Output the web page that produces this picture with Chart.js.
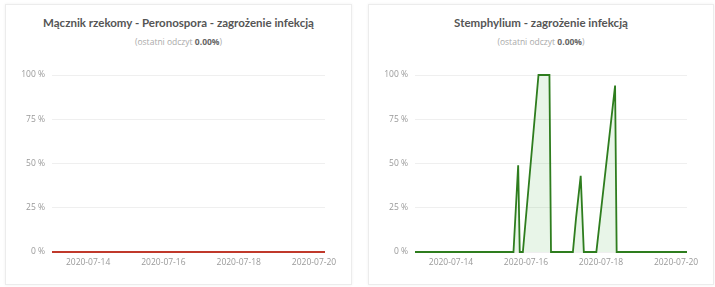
<!DOCTYPE html>
<html lang="pl">

<head>
    <meta charset="UTF-8">
    <title>Zagrożenie infekcją</title>
    <script src="https://cdn.jsdelivr.net/npm/chart.js"></script>
    <style>
        body {
            margin: 0;
            width: 715px;
            height: 287px;
            background: #fff;
            font-family: "Open Sans", sans-serif;
            position: relative;
            overflow: hidden;
        }

        .card {
            position: absolute;
            top: 4px;
            height: 279px;
            border: 1px solid #ececec;
            box-shadow: 0 0 3px rgba(0, 0, 0, 0.06);
            background: #fff;
        }

        .card h2 {
            margin: 0;
            position: absolute;
            top: 11px;
            left: 0;
            right: 0;
            text-align: center;
            font-family: Lato, sans-serif;
            font-size: 11.5px;
            font-weight: 700;
            color: #555;
        }

        .card p {
            margin: 0;
            position: absolute;
            top: 31px;
            left: 0;
            right: 0;
            text-align: center;
            font-size: 8.5px;
            color: #aaa;
        }

        .card p b {
            color: #666;
        }

        .card canvas {
            position: absolute;
            left: 8px;
            top: 60px;
        }
    </style>
</head>

<body>
    <div class="card" style="left:5px; width:345px;">
        <h2>Mącznik rzekomy - Peronospora - zagrożenie infekcją</h2>
        <p>(ostatni odczyt <b>0.00%</b>)</p>
        <canvas id="peronChart" width="330" height="211"></canvas>
    </div>
    <div class="card" style="left:368px; width:344px;">
        <h2>Stemphylium - zagrożenie infekcją</h2>
        <p>(ostatni odczyt <b>0.00%</b>)</p>
        <canvas id="stemChart" width="330" height="211"></canvas>
    </div>

    <script>
        // hours counted from 2020-07-14 00:00
        const startDate = Date.UTC(2020, 6, 14);
        const xTicks = [0, 48, 96, 144];
        const yTicks = [0, 25, 50, 75, 100];

        const peronHours = [-23, 151];
        const peronValues = [0, 0];

        const stemHours = [-23, 40, 43, 44, 46, 56, 63, 64, 78, 80, 83, 85, 93, 99, 105, 106, 151];
        const stemValues = [0, 0, 49, 0, 0, 100, 100, 0, 0, 19, 43, 0, 0, 47, 94, 0, 0];

        function toPoints(hours, values) {
            return hours.map((h, i) => ({ x: h, y: values[i] }));
        }

        function dateLabel(h) {
            const d = new Date(startDate + h * 3600 * 1000);
            return d.toISOString().slice(0, 10);
        }

        function makeChart(id, hours, values, lineColor, fillColor, padRight) {
            const ctx = document.getElementById(id).getContext('2d');
            return new Chart(ctx, {
                type: 'line',
                data: {
                    datasets: [{
                        data: toPoints(hours, values),
                        borderColor: lineColor,
                        backgroundColor: fillColor,
                        borderWidth: 1.8,
                        fill: 'origin',
                        pointRadius: 0,
                        tension: 0,
                        clip: 4
                    }]
                },
                options: {
                    responsive: false,
                    animation: false,
                    layout: { padding: { left: 0, right: padRight, top: 10, bottom: 0 } },
                    plugins: {
                        legend: { display: false },
                        tooltip: { enabled: false }
                    },
                    scales: {
                        x: {
                            type: 'linear',
                            min: hours[0],
                            max: hours[hours.length - 1],
                            afterBuildTicks: axis => { axis.ticks = xTicks.map(v => ({ value: v })); },
                            afterFit: axis => {
                                axis.height = 24;
                                axis.paddingLeft = 0;
                                axis.paddingRight = 0;
                            },
                            grid: { display: false, drawTicks: false },
                            border: { display: false },
                            ticks: {
                                autoSkip: false,
                                maxRotation: 0,
                                color: '#999',
                                font: { family: 'Open Sans', size: 8.5 },
                                padding: 5,
                                callback: v => dateLabel(v)
                            }
                        },
                        y: {
                            min: 0,
                            max: 100,
                            afterBuildTicks: axis => { axis.ticks = yTicks.map(v => ({ value: v })); },
                            afterFit: axis => {
                                axis.width = 38;
                                axis.paddingTop = 0;
                                axis.paddingBottom = 0;
                            },
                            grid: { color: '#efefef', drawTicks: false },
                            border: { display: false },
                            ticks: {
                                color: '#999',
                                font: { family: 'Open Sans', size: 8.5 },
                                padding: 7,
                                callback: v => v + ' %'
                            }
                        }
                    }
                }
            });
        }

        makeChart('peronChart', peronHours, peronValues, '#c0392b', 'rgba(231, 76, 60, 0.08)', 19);
        makeChart('stemChart', stemHours, stemValues, '#2e7d1e', 'rgba(76, 175, 80, 0.13)', 20);
    </script>
</body>

</html>
